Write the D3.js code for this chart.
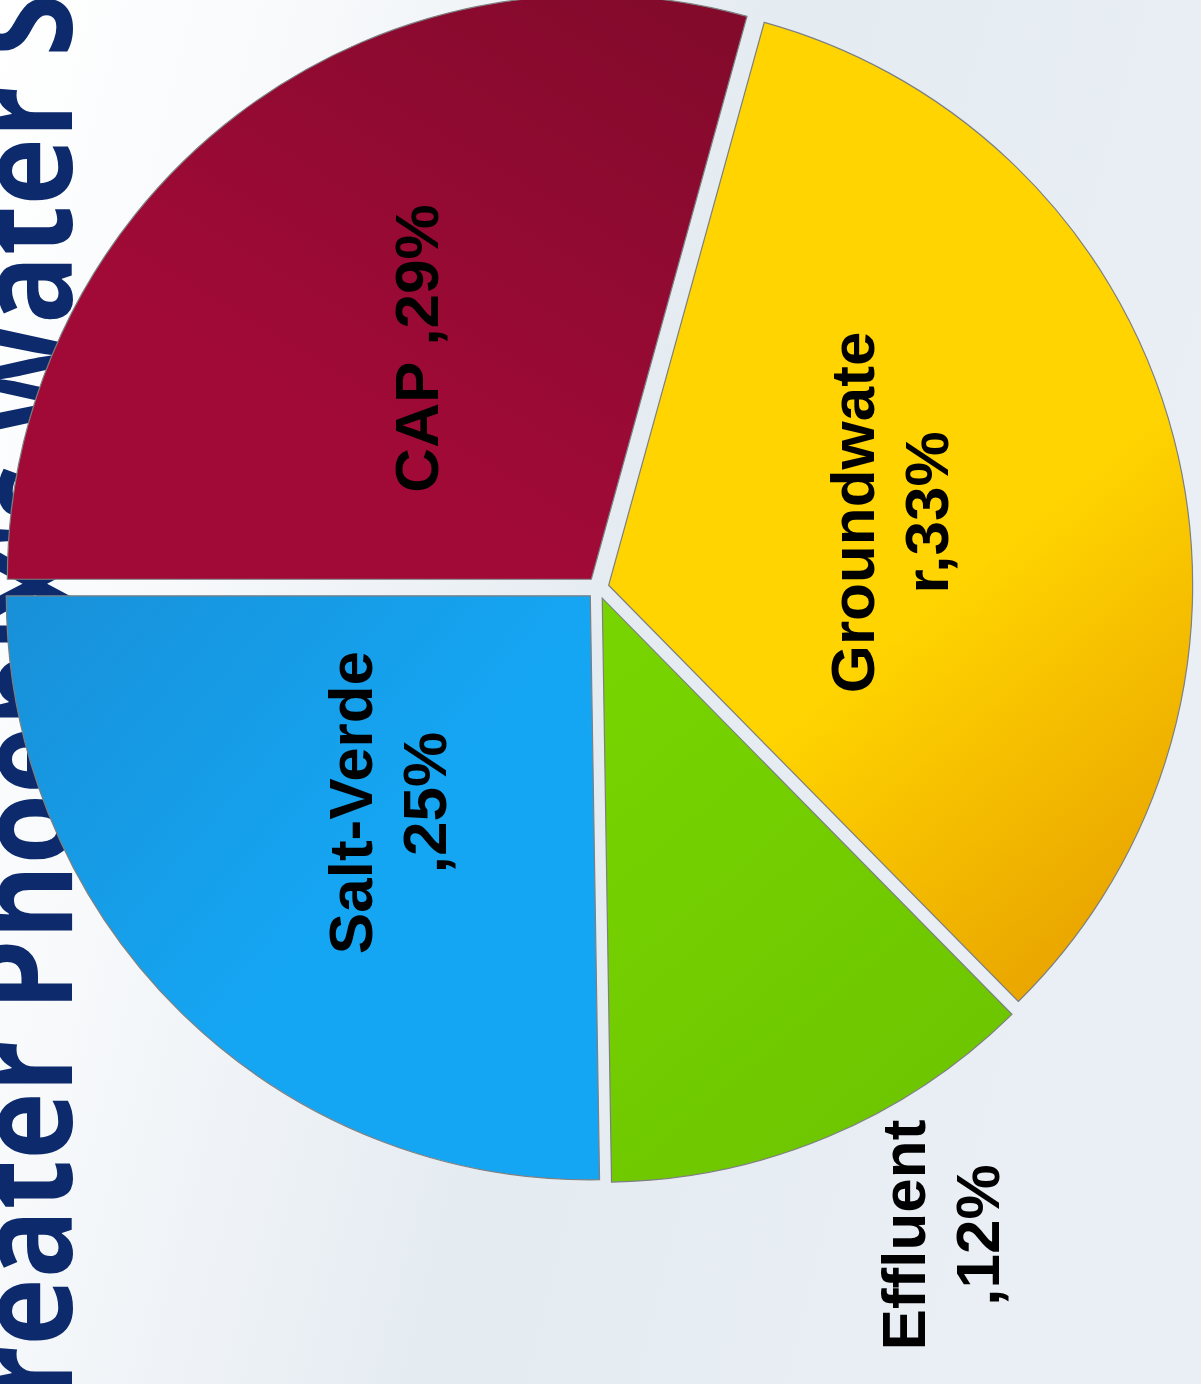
<!DOCTYPE html>
<html lang="en">
<head>
  <meta charset="UTF-8">
  <title>Greater Phoenix's Water Supply</title>
  <script src="https://d3js.org/d3.v7.min.js"></script>
  <style>
    html, body { margin: 0; padding: 0; background: #fff; }
    svg { display: block; }
  </style>
</head>
<body>
  <div id="chart"></div>

  <script>
    // data
    const categories = ["CAP", "Groundwater", "Effluent", "Salt-Verde"];
    const values = [29, 33, 12, 25];
    const labelLines = [["CAP ,29%"], ["Groundwate", "r,33%"], ["Effluent", ",12%"], ["Salt-Verde", ",25%"]];
    const titleText = "Greater Phoenix's Water Supply";

    const colors = {
      "CAP": ["#840a2c", "#a10a37"],
      "Groundwater": ["#ffd400", "#e9a400"],
      "Effluent": ["#78d400", "#6cc400"],
      "Salt-Verde": ["#1890d8", "#15a6f3"]
    };

    const width = 1201, height = 1384;
    const cx = 598, cy = 588;
    const radius = 584;
    const explode = 11;

    const svg = d3.select("#chart")
      .append("svg")
      .attr("width", width)
      .attr("height", height);

    const defs = svg.append("defs");

    // background wash
    const bg = defs.append("linearGradient")
      .attr("id", "bg")
      .attr("x1", "0").attr("y1", "0").attr("x2", "1").attr("y2", "0.3");
    bg.append("stop").attr("offset", "0").attr("stop-color", "#ffffff");
    bg.append("stop").attr("offset", "0.25").attr("stop-color", "#f7f9fb");
    bg.append("stop").attr("offset", "0.6").attr("stop-color", "#e4ebf1");
    bg.append("stop").attr("offset", "1").attr("stop-color", "#e9eff4");

    svg.append("rect")
      .attr("width", width)
      .attr("height", height)
      .attr("fill", "url(#bg)");

    // slice gradients
    const gradDir = {
      "CAP": [0.9, 0.05, 0.4, 0.7],
      "Groundwater": [0.3, 0.1, 0.75, 1],
      "Effluent": [0.2, 0, 0.8, 1],
      "Salt-Verde": [0, 0, 0.6, 0.5]
    };
    categories.forEach((c, i) => {
      const g = defs.append("linearGradient")
        .attr("id", "grad" + i)
        .attr("x1", gradDir[c][0]).attr("y1", gradDir[c][1])
        .attr("x2", gradDir[c][2]).attr("y2", gradDir[c][3]);
      g.append("stop").attr("offset", "0").attr("stop-color", colors[c][0]);
      g.append("stop").attr("offset", c === "Groundwater" ? "0.55" : "1")
        .attr("stop-color", c === "Groundwater" ? colors[c][0] : colors[c][1]);
      if (c === "Groundwater") {
        g.append("stop").attr("offset", "1").attr("stop-color", colors[c][1]);
      }
    });

    // title (rotated, cut off at the left edge, pie sits on top of it)
    svg.append("text")
      .attr("transform", `translate(72,${height + 96}) rotate(-90) scale(0.864,1)`)
      .attr("font-family", "'Open Sans', sans-serif")
      .attr("font-weight", "bold")
      .attr("font-size", 132)
      .attr("fill", "#0c2a6c")
      .text(titleText);

    const pie = d3.pie()
      .sort(null)
      .startAngle(-Math.PI / 2)
      .endAngle(3 * Math.PI / 2)
      .value(d => d);

    const arcs = pie(values);

    const arc = d3.arc()
      .innerRadius(0)
      .outerRadius(radius);

    const labelArc = d3.arc()
      .innerRadius(290)
      .outerRadius(290);

    const g = svg.append("g")
      .attr("transform", `translate(${cx},${cy})`);

    const mid = d => (d.startAngle + d.endAngle) / 2;
    const shift = d => d3.pointRadial(mid(d), explode);

    g.selectAll("path.slice")
      .data(arcs)
      .join("path")
      .attr("class", "slice")
      .attr("transform", d => `translate(${shift(d)})`)
      .attr("d", arc)
      .attr("fill", (d, i) => `url(#grad${i})`)
      .attr("stroke", "#7d7f80")
      .attr("stroke-width", 1.2);

    // labels
    const fontSize = 62;
    const lineGap = 74;
    const capH = 44;

    const labelPos = (d, i) => {
      if (values[i] < 15) {
        // small slice: label sits outside the pie
        return d3.pointRadial(mid(d) - 0.09, 732);
      }
      const p = labelArc.centroid(d);
      const s = shift(d);
      return [p[0] + s[0], p[1] + s[1]];
    };

    const labels = g.selectAll("g.label")
      .data(arcs)
      .join("g")
      .attr("class", "label")
      .attr("transform", (d, i) => `translate(${labelPos(d, i)}) rotate(-90)`);

    labels.each(function (d, i) {
      const lines = labelLines[i];
      const n = lines.length;
      d3.select(this).selectAll("text")
        .data(lines)
        .join("text")
        .attr("text-anchor", "middle")
        .attr("font-family", "'Liberation Sans', Arial, sans-serif")
        .attr("font-weight", "bold")
        .attr("font-size", fontSize)
        .attr("fill", "#000")
        .attr("y", (t, j) => (j - (n - 1) / 2) * lineGap + capH / 2)
        .text(t => t);
    });
  </script>
</body>
</html>
